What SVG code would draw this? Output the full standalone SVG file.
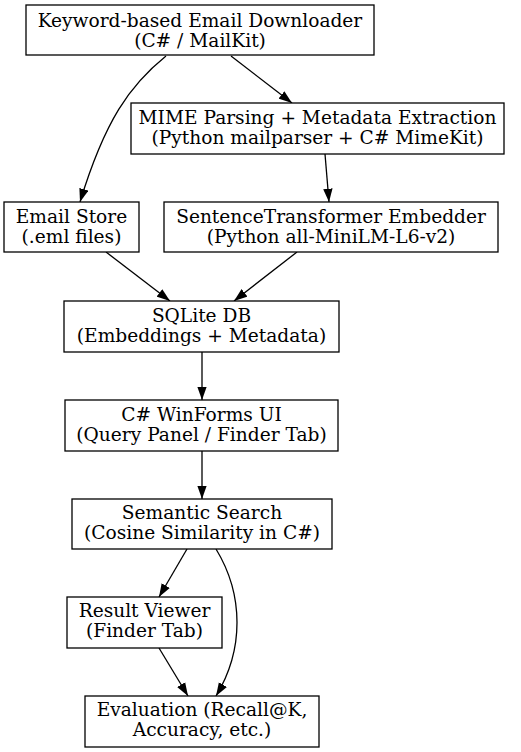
<svg xmlns="http://www.w3.org/2000/svg" width="521" height="752" viewBox="0 0 521 752">
<style>
.box{fill:#fff;stroke:#000;stroke-width:1.3}
.t{font-family:"DejaVu Serif",serif;font-size:18.6px;fill:#000;text-anchor:middle}
.e{fill:none;stroke:#000;stroke-width:1.3}
</style>
<defs>
<marker id="ah" markerUnits="userSpaceOnUse" markerWidth="14" markerHeight="10" viewBox="0 -5 14 10" refX="13.3" refY="0" orient="auto">
<path d="M0,-4.7 L13.3,0 L0,4.7 z" fill="#000"/>
</marker>
</defs>
<rect width="521" height="752" fill="#fff"/>
<g id="connectors">
<path class="e" marker-end="url(#ah)" d="M166,56 C130,85 105,120 80,202"/>
<path class="e" marker-end="url(#ah)" d="M231,56 L292,103"/>
<path class="e" marker-end="url(#ah)" d="M325,154 L329,202"/>
<path class="e" marker-end="url(#ah)" d="M106,252 L170,301"/>
<path class="e" marker-end="url(#ah)" d="M297,252 L234,301"/>
<path class="e" marker-end="url(#ah)" d="M202,352 L202,400"/>
<path class="e" marker-end="url(#ah)" d="M202,451 L202,499"/>
<path class="e" marker-end="url(#ah)" d="M187,549 L159,597"/>
<path class="e" marker-end="url(#ah)" d="M216,549 C244,595 244,650 216,696"/>
<path class="e" marker-end="url(#ah)" d="M159,648 L188,696"/>
</g>
<g id="downloader"><rect class="box" x="26" y="5" width="348" height="50"/><text class="t" x="200" y="27">Keyword-based Email Downloader</text><text class="t" x="200" y="47">(C# / MailKit)</text></g>
<g id="mime"><rect class="box" x="131" y="103" width="373" height="51"/><text class="t" x="317.5" y="124">MIME Parsing + Metadata Extraction</text><text class="t" x="317.5" y="144">(Python mailparser + C# MimeKit)</text></g>
<g id="store"><rect class="box" x="4" y="202" width="135" height="50"/><text class="t" x="71.5" y="223">Email Store</text><text class="t" x="71.5" y="243">(.eml files)</text></g>
<g id="embedder"><rect class="box" x="164" y="202" width="334" height="50"/><text class="t" x="331" y="223">SentenceTransformer Embedder</text><text class="t" x="331" y="243">(Python all-MiniLM-L6-v2)</text></g>
<g id="sqlite"><rect class="box" x="64" y="301" width="275" height="51"/><text class="t" x="201.5" y="322">SQLite DB</text><text class="t" x="201.5" y="342">(Embeddings + Metadata)</text></g>
<g id="ui"><rect class="box" x="65" y="400" width="273" height="51"/><text class="t" x="201.5" y="421">C# WinForms UI</text><text class="t" x="201.5" y="441">(Query Panel / Finder Tab)</text></g>
<g id="search"><rect class="box" x="72" y="499" width="260" height="50"/><text class="t" x="202" y="519">Semantic Search</text><text class="t" x="202" y="539">(Cosine Similarity in C#)</text></g>
<g id="viewer"><rect class="box" x="67" y="597" width="155" height="51"/><text class="t" x="144.5" y="617">Result Viewer</text><text class="t" x="144.5" y="637">(Finder Tab)</text></g>
<g id="eval"><rect class="box" x="85" y="696" width="234" height="51"/><text class="t" x="202" y="716">Evaluation (Recall@K,</text><text class="t" x="202" y="736">Accuracy, etc.)</text></g>
</svg>
